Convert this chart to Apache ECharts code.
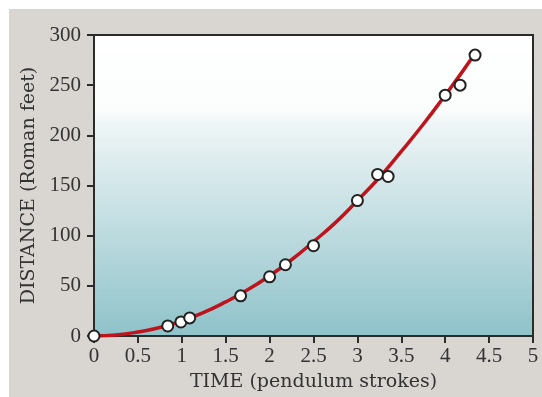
<!DOCTYPE html>
<html><head><meta charset="utf-8">
<script src="https://cdn.jsdelivr.net/npm/echarts@6/dist/echarts.min.js"></script>
<style>
html,body{margin:0;padding:0;background:#fff;}
#wrap{position:absolute;left:9px;top:9px;width:533px;height:388px;background:#d9d5d0;}
#c{width:533px;height:388px;}
</style></head><body>
<div id="wrap"><div id="c"></div></div>
<script>
// measured points: time (pendulum strokes), distance (Roman feet)
var obsTime = [0, 0.84, 0.99, 1.09, 1.67, 2.0, 2.18, 2.5, 3.0, 3.23, 3.35, 4.0, 4.17, 4.34];
var obsDist = [0, 10, 14, 18, 40, 59, 71, 90, 135, 161, 159, 240, 250, 280];
// fitted curve
var curveTime = [0, 0.25, 0.5, 0.75, 1, 1.25, 1.5, 1.75, 2, 2.25, 2.5, 2.75, 3, 3.25, 3.5, 3.75, 4, 4.2, 4.35];
var curveDist = [0, 1, 4, 8.5, 15, 23.5, 34, 46, 60, 76, 94, 113, 135, 158, 184, 211, 240, 264, 283];
var xTicks = [0, 0.5, 1, 1.5, 2, 2.5, 3, 3.5, 4, 4.5, 5];
var yTicks = [0, 50, 100, 150, 200, 250, 300];

var FONT = 'Liberation Serif';
var NAMEFONT = 'DejaVu Serif';
var chart = echarts.init(document.getElementById('c'));
chart.setOption({
  animation: false,
  textStyle: {fontFamily: FONT},
  grid: {
    left: 85, right: 9, top: 26, bottom: 58,
    show: true,
    borderColor: '#2b2b2b', borderWidth: 2,
    backgroundColor: new echarts.graphic.LinearGradient(0, 0, 0, 1, [
      {offset: 0, color: '#ffffff'},
      {offset: 0.25, color: '#fbfdfd'},
      {offset: 0.3, color: '#eef5f6'},
      {offset: 1, color: '#8ec2c9'}
    ])
  },
  xAxis: {
    type: 'value', min: xTicks[0], max: xTicks[xTicks.length-1], interval: 0.5,
    name: 'TIME (pendulum strokes)', nameLocation: 'middle', nameGap: 37,
    nameTextStyle: {fontFamily: NAMEFONT, fontSize: 19, color: '#333'},
    axisLine: {show: true, lineStyle: {color: '#2b2b2b', width: 2}},
    axisTick: {show: true, inside: false, length: 7, lineStyle: {color: '#2b2b2b', width: 2}},
    axisLabel: {fontFamily: FONT, fontSize: 21, color: '#333', margin: 10},
    splitLine: {show: false}
  },
  yAxis: {
    type: 'value', min: yTicks[0], max: yTicks[yTicks.length-1], interval: 50,
    name: 'DISTANCE (Roman feet)', nameLocation: 'middle', nameGap: 41, nameRotate: 90,
    nameTextStyle: {fontFamily: NAMEFONT, fontSize: 19, color: '#333'},
    axisLine: {show: true, lineStyle: {color: '#2b2b2b', width: 2}},
    axisTick: {show: true, inside: false, length: 7, lineStyle: {color: '#2b2b2b', width: 2}},
    axisLabel: {fontFamily: FONT, fontSize: 21, color: '#333', margin: 13},
    splitLine: {show: false}
  },
  series: [
    {
      type: 'line', smooth: true, showSymbol: false, symbol: 'none',
      data: curveTime.map(function(t, i){ return [t, curveDist[i]]; }),
      lineStyle: {color: '#c0141c', width: 3.5}, z: 2
    },
    {
      type: 'scatter', symbol: 'circle', symbolSize: 11,
      data: obsTime.map(function(t, i){ return [t, obsDist[i]]; }),
      itemStyle: {color: '#ffffff', borderColor: '#222', borderWidth: 2, opacity: 1}, z: 3
    }
  ]
});
</script></body></html>
